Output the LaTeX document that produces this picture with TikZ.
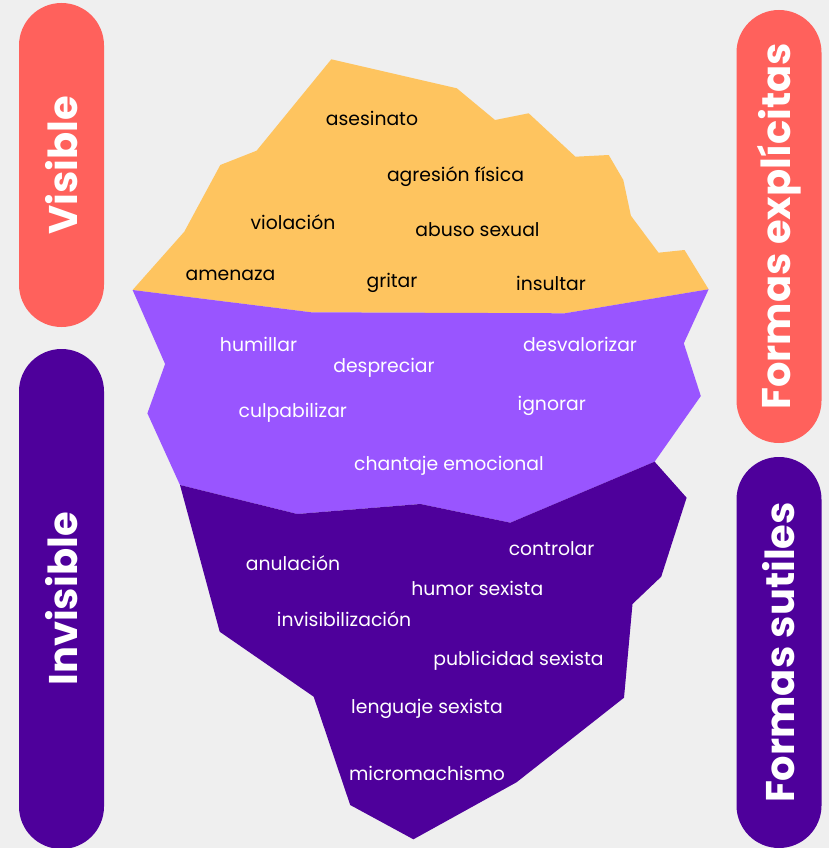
\documentclass[tikz,border=0pt]{standalone}
\usepackage{fontspec}
\setmainfont{Poppins}
\definecolor{bgray}{HTML}{EFEFEF}
\definecolor{tipyellow}{HTML}{FEC45F}
\definecolor{midpurple}{HTML}{9955FF}
\definecolor{deeppurple}{HTML}{4E009B}
\definecolor{coral}{HTML}{FF615C}
\begin{document}
\begin{tikzpicture}[x=1pt,y=-1pt,
	word/.style={font=\fontsize{18.8}{19}\selectfont,inner sep=0pt},
	pill/.style={rounded corners=42.5pt,minimum height=85pt,inner sep=0pt,
		rotate=90,text=white,font=\fontsize{40}{40}\selectfont\bfseries}]
	\fill[bgray] (0,0) rectangle (829,848);
	\useasboundingbox (0,0) rectangle (829,848);
	% tip of the iceberg
	\fill[tipyellow] (132.6,290) -- (184.3,231.7) -- (220.3,165) -- (256.6,150.7) -- (331.3,59.3)
		-- (456.8,88.3) -- (495,120) -- (528.7,113.3) -- (575.4,156.7) -- (608.7,155)
		-- (623.3,180) -- (630.9,215.7) -- (658.5,252.7) -- (684.5,250) -- (708.6,289.3)
		-- (564.7,313.3) -- (311.3,312.3) -- cycle;
	% middle layer
	\fill[midpurple] (132.6,290) -- (311.3,312.3) -- (564.7,313.3) -- (708.6,289.3) -- (683.8,343.3)
		-- (700.8,396) -- (654.6,461.7) -- (510.3,522.7) -- (420.4,504) -- (297.2,514)
		-- (180,485) -- (147.4,413.3) -- (165.1,364) -- cycle;
	% deep layer
	\fill[deeppurple] (180,485) -- (297.2,514) -- (420.4,504) -- (510.3,522.7) -- (654.6,461.7)
		-- (686.6,497.7) -- (661.2,576.7) -- (632.5,604) -- (624,697.7) -- (516.5,782.3)
		-- (413.4,839.3) -- (350.2,805) -- (313.7,696.7) -- (219.7,631.7) -- cycle;
	\foreach \n/\x/\y/\t in {asesinato/372/118/asesinato, agresion/455.5/177/agresión física,
		violacion/293/222/violación, abuso/477.5/230/abuso sexual, amenaza/230.5/275/amenaza,
		gritar/392/283/gritar, insultar/551/283/insultar}{
		\node[word,text=black] (\n) at (\x,\y) {\t};
	}
	\foreach \n/\x/\y/\t in {humillar/258.5/344/humillar, desvalorizar/580/344/desvalorizar,
		despreciar/384/368/despreciar, culpabilizar/292.8/413/culpabilizar, ignorar/551.7/406/ignorar,
		chantaje/449/465.7/chantaje emocional}{
		\node[word,text=white] (\n) at (\x,\y) {\t};
	}
	\foreach \n/\x/\y/\t in {anulacion/293/563/anulación, controlar/551.6/549/controlar,
		humor/477.3/588/humor sexista, invisib/344/619/invisibilización,
		publicidad/518.5/661/publicidad sexista, lenguaje/427/709/lenguaje sexista,
		micro/427/773/micromachismo}{
		\node[word,text=white] (\n) at (\x,\y) {\t};
	}
	% side labels
	\node[pill,fill=coral,minimum width=324pt] (visible) at (61.5,165) {Visible};
	\node[pill,fill=deeppurple,minimum width=500pt] (invisible) at (61.5,599) {Invisible};
	\node[pill,fill=coral,minimum width=433pt] (explicitas) at (779,226.5) {Formas explícitas};
	\node[pill,fill=deeppurple,minimum width=391pt] (sutiles) at (779,652.5) {Formas sutiles};
\end{tikzpicture}
\end{document}
